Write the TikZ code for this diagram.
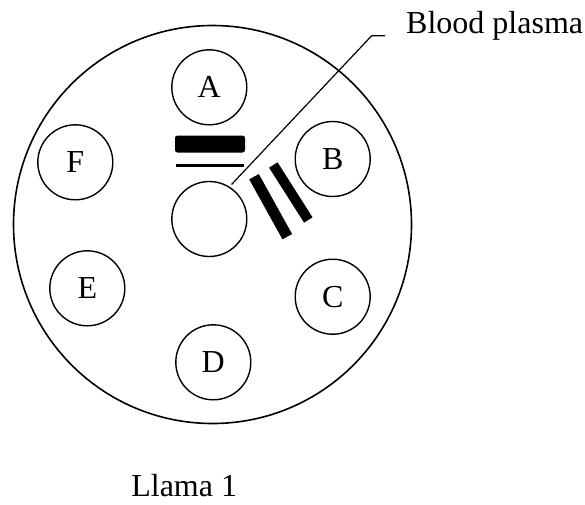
\documentclass[tikz,border=0pt]{standalone}
\usepackage{fontspec}
\setmainfont{Liberation Serif}
\begin{document}
\begin{tikzpicture}[x=1pt, y=-1pt,
		well/.style={draw, circle, line width=1.4pt, minimum size=75pt, inner sep=0pt, font=\fontsize{32}{36}\selectfont},
		lbl/.style={font=\fontsize{32}{36}\selectfont, inner sep=0pt}]
		\useasboundingbox (0,0) rectangle (585,504);
		% 琼脂板
		\node[draw, circle, line width=1.6pt, minimum size=398pt, inner sep=0pt] (plate) at (212.5,224.5) {};
		
		% 孔
		\node[well] (A) at (209.3,87.3) {A};
		\node[well] (B) at (332.7,159) {B};
		\node[well] (C) at (332.7,296.7) {C};
		\node[well] (D) at (213.3,362.3) {D};
		\node[well] (E) at (87.3,288.3) {E};
		\node[well] (F) at (75.3,162.3) {F};
		\node[well] (mid) at (209.3,219) {};
		
		% 沉淀线
		\fill[rounded corners=2.5pt] (175,135.5) rectangle (245,152.5);
		\draw[line width=2.5pt] (176,165.7) -- (244,165.7);
		\draw[line width=11pt] (254,176.7) -- (287.3,236.7);
		\draw[line width=10pt] (273.3,165) -- (308.3,220);
		
		% 标注
		\node[lbl, anchor=base west] (plasma) at (406,33.3) {Blood plasma};
		\coordinate (bend) at (371.7,35.7);
		\coordinate (tip) at (385,35.7);
		\draw[line width=1.2pt, shorten <=3pt] (mid.58) -- (bend) -- (tip);
		
		\node[lbl, anchor=base] (llama) at (184.2,496.7) {Llama 1};
	\end{tikzpicture}
\end{document}
